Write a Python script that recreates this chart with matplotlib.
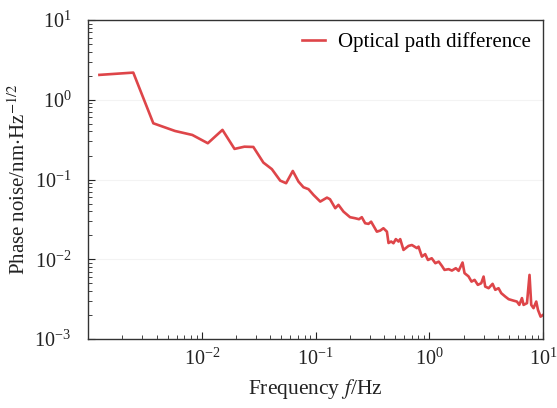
import matplotlib
matplotlib.use("Agg")
import matplotlib.pyplot as plt
import matplotlib.ticker as mticker
import numpy as np

plt.rcParams['font.family'] = ['Liberation Serif', 'DejaVu Serif']
plt.rcParams['mathtext.fontset'] = 'stix'

# Phase noise spectrum (Hz, nm/Hz^0.5)
freq = [1.26e-3, 2.50e-3, 3.75e-3, 5.82e-3, 8.26e-3, 1.13e-2, 1.52e-2, 1.94e-2,
        2.37e-2, 2.84e-2, 3.48e-2, 4.13e-2, 4.89e-2, 5.51e-2, 6.31e-2, 7.08e-2,
        7.83e-2, 8.67e-2, 9.60e-2, 0.110, 0.126, 0.134, 0.149, 0.159,
        0.176, 0.201, 0.223, 0.241, 0.255, 0.273, 0.292, 0.308,
        0.346, 0.370, 0.395, 0.424, 0.438, 0.462, 0.484, 0.508,
        0.536, 0.555, 0.593, 0.656, 0.703, 0.778, 0.804, 0.861,
        0.920, 0.973, 1.05, 1.13, 1.21, 1.29, 1.36, 1.48,
        1.58, 1.71, 1.81, 1.96, 2.04, 2.21, 2.35, 2.50,
        2.67, 2.86, 3.00, 3.10, 3.32, 3.60, 3.80, 4.06,
        4.29, 4.65, 4.98, 5.50, 5.89, 6.18, 6.52, 6.74,
        7.22, 7.60, 7.87, 8.24, 8.71, 9.02, 9.51, 10.0]
noise = [2.05, 2.19, 0.507, 0.406, 0.362, 0.285, 0.419, 0.242,
         0.258, 0.256, 0.163, 0.135, 0.0969, 0.0899, 0.128, 0.0942,
         0.0800, 0.0757, 0.0641, 0.0529, 0.0593, 0.0566, 0.0437, 0.0481,
         0.0396, 0.0337, 0.0327, 0.0318, 0.0337, 0.0283, 0.0278, 0.0296,
         0.0222, 0.0229, 0.0245, 0.0222, 0.0160, 0.0167, 0.0159, 0.0179,
         0.0167, 0.0179, 0.0131, 0.0147, 0.0151, 0.0138, 0.0144, 0.0108,
         0.0116, 0.0098, 0.0103, 0.00893, 0.00935, 0.00826, 0.00736, 0.00752,
         0.00722, 0.00773, 0.00716, 0.0091, 0.0067, 0.00611, 0.00525, 0.00552,
         0.00478, 0.00501, 0.00607, 0.00455, 0.00434, 0.00492, 0.00414, 0.00434,
         0.00376, 0.00341, 0.00316, 0.00303, 0.00295, 0.00268, 0.00326, 0.00268,
         0.00282, 0.00637, 0.00268, 0.00244, 0.00295, 0.00232, 0.00191, 0.00201]

fig = plt.figure(figsize=(5.57, 4.08), dpi=100)
ax = fig.add_axes([0.158, 0.169, 0.817, 0.782])

ax.plot(freq, noise, color='#de4549', linewidth=1.9, label='Optical path difference')

ax.set_xscale('log')
ax.set_yscale('log')
ax.set_xlim(1e-3, 10)
ax.set_ylim(1e-3, 10)

ax.set_xticks([1e-2, 1e-1, 1, 10])
ax.xaxis.set_major_formatter(mticker.LogFormatterSciNotation())
ax.xaxis.set_minor_locator(mticker.LogLocator(base=10, subs=np.arange(2, 10)))
ax.xaxis.set_minor_formatter(mticker.NullFormatter())
ax.yaxis.set_minor_locator(mticker.LogLocator(base=10, subs=np.arange(2, 10)))

ax.tick_params(which='both', direction='in', top=False, right=False, labelsize=14.5, colors='#222222')
ax.tick_params(axis='x', which='major', length=5, pad=7)
ax.tick_params(axis='y', which='major', length=5, pad=12)
ax.tick_params(which='minor', length=3)

ax.yaxis.grid(True, which='major', color='#f3f3f3', linewidth=0.8)

for sp in ax.spines.values():
    sp.set_color('#333333')
    sp.set_linewidth(1.0)

ax.set_xlabel('Frequency $f$/Hz', fontsize=15.5, color='#222222', labelpad=5)
ax.set_ylabel('Phase noise/nm$\\cdot$Hz$^{-1/2}$', fontsize=15, color='#222222', labelpad=3)

ax.legend(loc='upper right', frameon=False, fontsize=15, handlelength=1.1,
          handletextpad=0.6, borderaxespad=0.2)

fig.savefig('out.png', dpi=100)
